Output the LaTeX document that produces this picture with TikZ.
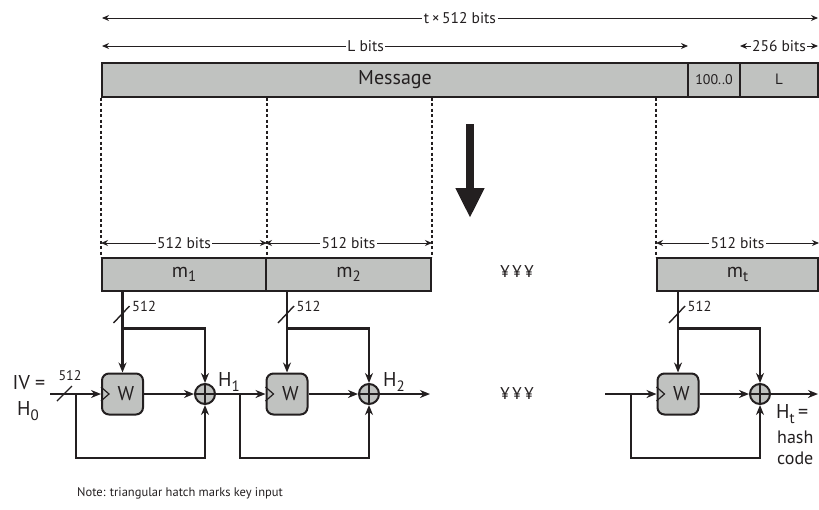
\documentclass[tikz,border=0pt]{standalone}
\usepackage{fontspec}
\setmainfont{PT Sans}
\usetikzlibrary{positioning, arrows.meta, calc}
\definecolor{inkgray}{HTML}{231F20}
\definecolor{blockgray}{HTML}{C0C2C0}
\newcommand{\lowidx}[1]{\raisebox{-0.45ex}{\fontsize{15}{15}\selectfont #1}}

\begin{document}
\begin{tikzpicture}[
      x=1pt, y=-1pt,
      every node/.style={font=\fontsize{15.5}{17}\selectfont, inner sep=0pt, text=inkgray},
      >={Stealth[length=10pt,width=8pt]},
      wire/.style={line width=2.2pt, draw=inkgray},
      dim/.style={<->, line width=1pt, draw=inkgray, >={Stealth[length=7pt,width=6pt]}},
      cut/.style={line width=1.6pt, draw=inkgray, dash pattern=on 3pt off 2.5pt},
      bar/.style={draw=inkgray, line width=2pt, fill=blockgray, minimum height=34pt,
                  font=\fontsize{20}{22}\selectfont},
      fbox/.style={draw=inkgray, line width=2pt, fill=blockgray, rounded corners=7pt,
                   minimum width=41pt, minimum height=41pt, font=\fontsize{20}{22}\selectfont},
      xorgate/.style={circle, draw=inkgray, line width=2pt, fill=blockgray, minimum size=20pt},
      lbl/.style={fill=white, inner xsep=1.5pt},
      big/.style={font=\fontsize{20}{22}\selectfont},
      etc/.style={font=\fontsize{17}{19}\selectfont},
    ]
    \useasboundingbox (0,0) rectangle (819,509);

    % message with padding and length
    \node[bar, minimum width=586pt] (msg) at (395,79.5) {Message};
    \node[bar, minimum width=52pt, font=\fontsize{14}{16}\selectfont] (pad) at (714,79.5) {100..0};
    \node[bar, minimum width=78pt, font=\fontsize{15}{17}\selectfont] (len) at (779,79.5) {L};

    \coordinate (ta) at (102,18);  \coordinate (tb) at (818,18);
    \coordinate (la) at (102,46);  \coordinate (lb) at (688,46);
    \coordinate (ka) at (740,46);  \coordinate (kb) at (818,46);
    \draw[dim] (ta) -- node[lbl]{t\,×\,512 bits} (tb);
    \draw[dim] (la) -- node[lbl, pos=0.45]{L bits} (lb);
    \draw[dim] (ka) -- node[lbl]{256 bits} (kb);

    % blocks
    \node[bar, minimum width=164pt, minimum height=33pt] (m1) at (184,274.5) {m\lowidx{1}};
    \node[bar, minimum width=165pt, minimum height=33pt] (m2) at (348.5,274.5) {m\lowidx{2}};
    \node[bar, minimum width=161pt, minimum height=33pt] (mt) at (737.5,274.5) {m\lowidx{t}};
    \node[etc] (dots1) at (517,272) {¥\,¥\,¥};

    \draw[cut] (msg.south west) -- (m1.north west);
    \draw[cut] (msg.south west -| m1.north east) -- (m1.north east);
    \draw[cut] (msg.south west -| m2.north east) -- (m2.north east);
    \draw[cut] (msg.south west -| mt.north west) -- (mt.north west);

    \draw[dim] ($(m1.north west)+(0,-14)$) -- node[lbl]{512 bits} ($(m1.north east)+(0,-14)$);
    \draw[dim] ($(m2.north west)+(0,-14)$) -- node[lbl]{512 bits} ($(m2.north east)+(0,-14)$);
    \draw[dim] ($(mt.north west)+(0,-14)$) -- node[lbl]{512 bits} ($(mt.north east)+(0,-14)$);

    \draw[line width=8pt, draw=inkgray, -{Triangle[length=30pt,width=27pt]}] (470,124) -- (470,218);

    % compression stages
    \node[fbox] (w1) at (122.5,394) {\hspace{7pt}W};
    \node[fbox] (w2) at (287,394) {\hspace{7pt}W};
    \node[fbox] (wt) at (678,394) {\hspace{7pt}W};
    \node[xorgate] (x1) at (205,394) {};
    \node[xorgate] (x2) at (369,394) {};
    \node[xorgate] (xt) at (760,394) {};
    \foreach \g in {x1,x2,xt}{
      \draw[line width=1.6pt, draw=inkgray] (\g.north) -- (\g.south) (\g.west) -- (\g.east);
    }
    \foreach \w in {w1,w2,wt}{
      \draw[line width=1.2pt, draw=inkgray] ($(\w.west)+(0,-7)$) -- ++(8,7) -- ++(-8,7);
    }

    \coordinate (j1) at ($(w1.north)+(0,-44)$);
    \coordinate (j2) at ($(w2.north)+(0,-44)$);
    \coordinate (jt) at ($(wt.north)+(0,-44)$);
    \draw[wire, ->] (w1.north |- m1.south) -- (w1.north);
    \draw[wire, ->] (w2.north |- m2.south) -- (w2.north);
    \draw[wire, ->] (wt.north |- mt.south) -- (wt.north);
    \draw[wire, ->] (j1) -| (x1.north);
    \draw[wire, ->] (j2) -| (x2.north);
    \draw[wire, ->] (jt) -| (xt.north);

    \draw[line width=1.4pt, draw=inkgray] ($(w1.north |- m1.south)+(-9,31)$) -- ++(16,-17)
      node[right=2pt, font=\fontsize{14.5}{16}\selectfont] (k1) {512};
    \draw[line width=1.4pt, draw=inkgray] ($(w2.north |- m2.south)+(-9,31)$) -- ++(16,-17)
      node[right=2pt, font=\fontsize{14.5}{16}\selectfont] (k2) {512};
    \draw[line width=1.4pt, draw=inkgray] ($(wt.north |- mt.south)+(-9,31)$) -- ++(16,-17)
      node[right=2pt, font=\fontsize{14.5}{16}\selectfont] (kt) {512};

    \coordinate (iv) at (50,394);
    \coordinate (b0) at (76,394);
    \coordinate (b1) at (240,394);
    \coordinate (o2) at (430,394);
    \coordinate (it) at (605,394);
    \coordinate (bt) at (631,394);
    \coordinate (ot) at (818,394);

    \draw[wire, ->] (iv) -- (w1.west);
    \draw[wire, ->] (b0) -- ++(0,64) -| (x1.south);
    \draw[wire, ->] (w1.east) -- (x1.west);
    \draw[wire, ->] (x1.east) -- (w2.west);
    \draw[wire, ->] (b1) -- ++(0,64) -| (x2.south);
    \draw[wire, ->] (w2.east) -- (x2.west);
    \draw[wire, ->] (x2.east) -- (o2);
    \draw[wire, ->] (it) -- (wt.west);
    \draw[wire, ->] (bt) -- ++(0,64) -| (xt.south);
    \draw[wire, ->] (wt.east) -- (xt.west);
    \draw[wire, ->] (xt.east) -- (ot);

    \draw[line width=1.4pt, draw=inkgray] (57,401) -- (72,386);
    \node[font=\fontsize{14}{16}\selectfont] (k0) at (70,376) {512};
    \node[big] (ivl) at (29,383) {IV =};
    \node[big] (h0) at (28,411) {H\lowidx{0}};
    \node[big] (h1) at (229,382) {H\lowidx{1}};
    \node[big] (h2) at (394,382) {H\lowidx{2}};
    \node[big, anchor=west] (ht) at (776,414) {H\lowidx{t}\,=};
    \node[font=\fontsize{18}{20}\selectfont, anchor=west] (hs) at (777,437) {hash};
    \node[font=\fontsize{18}{20}\selectfont, anchor=west] (cd) at (777,458) {code};
    \node[etc] (dots2) at (517,394) {¥\,¥\,¥};

    \node[anchor=west, font=\fontsize{12.5}{14}\selectfont] (note) at (77,493)
      {Note: triangular hatch marks key input};
  \end{tikzpicture}
\end{document}
